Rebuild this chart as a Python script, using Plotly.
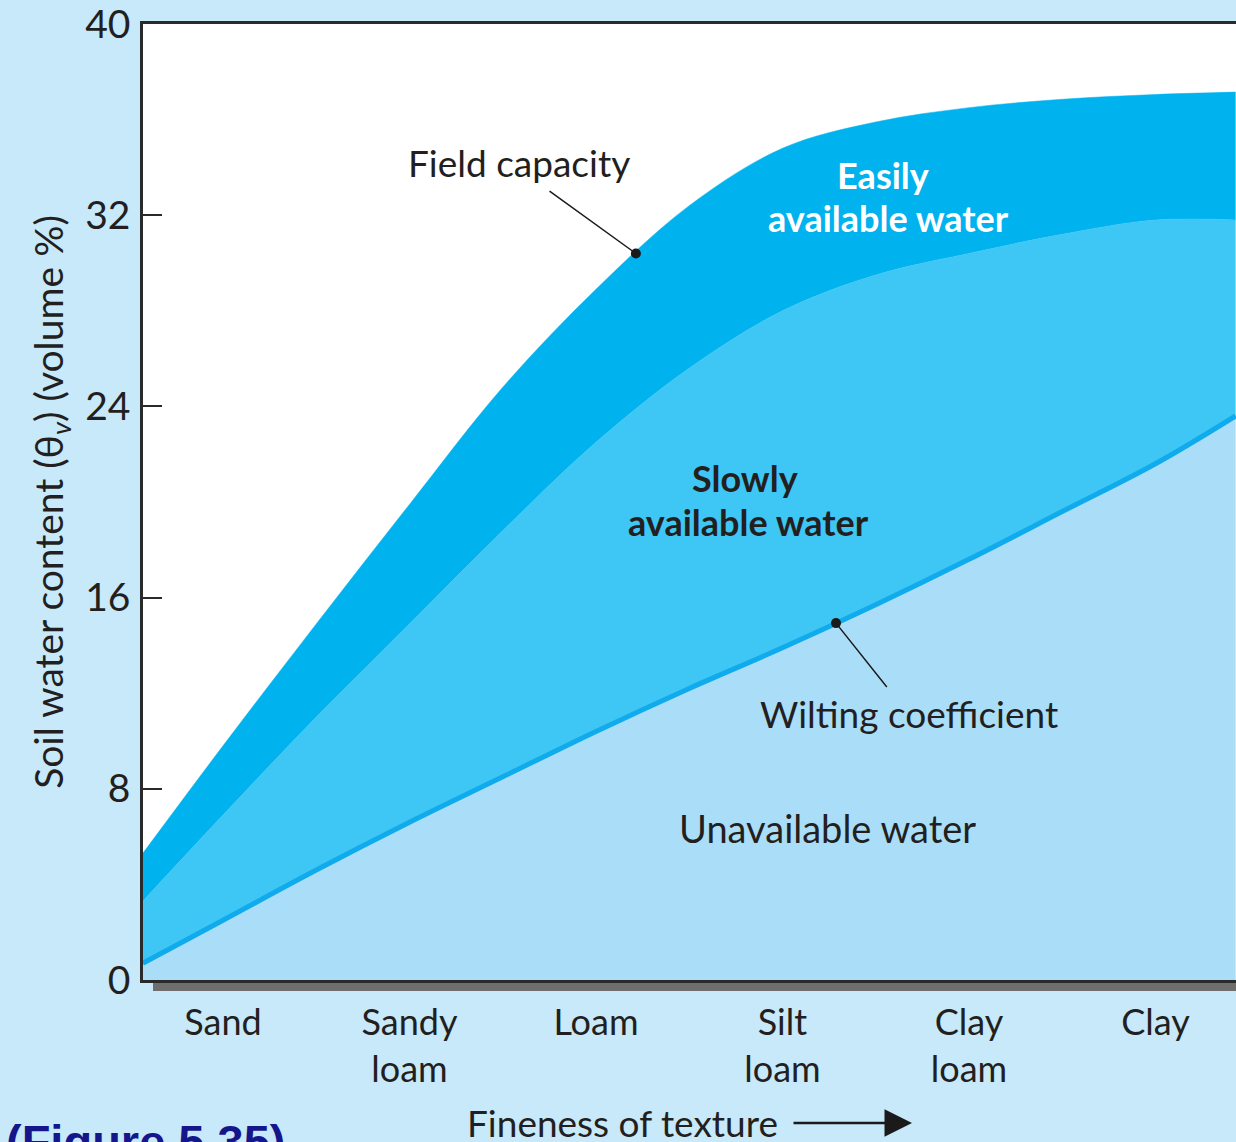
import numpy as np
import plotly.graph_objects as go

# ---- data ----
texture_labels = ["Sand", "Sandy<br>loam", "Loam", "Silt<br>loam", "Clay<br>loam", "Clay"]
texture_ticks = [0, 1, 2, 3, 4, 5]
texture_pos = [-0.43, 0, 0.5, 1, 1.5, 2, 2.5, 3, 3.5, 4, 4.5, 5, 5.43]
field_capacity = [5.3, 9.8, 14.9, 19.9, 24.8, 28.9, 32.4, 34.8, 35.9, 36.5, 36.85, 37.05, 37.15]
slow_limit = [3.3, 6.9, 11.0, 14.9, 18.8, 22.5, 25.6, 28.0, 29.5, 30.4, 31.2, 31.8, 31.8]
wilting = [0.7, 2.5, 4.6, 6.6, 8.5, 10.4, 12.2, 13.9, 15.7, 17.6, 19.6, 21.6, 23.6]
y_ticks = [0, 8, 16, 24, 32, 40]

FONT = "Lato"
DARK = "#231f20"
C_EASY = "#00b2ee"
C_SLOW = "#3ec7f4"
C_UNAV = "#aadef8"
C_WILT = "#10abec"
BG = "#c7e9fa"
SM = 1.0

fig = go.Figure()
fig.add_trace(go.Scatter(x=texture_pos, y=wilting, mode="lines",
                         line=dict(width=0.5, color=C_UNAV, shape="spline", smoothing=SM),
                         fill="tozeroy", fillcolor=C_UNAV, hoverinfo="skip"))
fig.add_trace(go.Scatter(x=texture_pos, y=slow_limit, mode="lines",
                         line=dict(width=0.5, color=C_SLOW, shape="spline", smoothing=SM),
                         fill="tonexty", fillcolor=C_SLOW, hoverinfo="skip"))
fig.add_trace(go.Scatter(x=texture_pos, y=field_capacity, mode="lines",
                         line=dict(width=0.5, color=C_EASY, shape="spline", smoothing=SM),
                         fill="tonexty", fillcolor=C_EASY, hoverinfo="skip"))
fig.add_trace(go.Scatter(x=texture_pos, y=wilting, mode="lines",
                         line=dict(width=5, color=C_WILT, shape="spline", smoothing=SM),
                         hoverinfo="skip"))

# pointer dots on the curves
fc_x = 2.214
wc_x = 3.287
fc_y = float(np.interp(fc_x, texture_pos, field_capacity))
wc_y = float(np.interp(wc_x, texture_pos, wilting))
fig.add_trace(go.Scatter(x=[fc_x, wc_x], y=[fc_y, wc_y], mode="markers",
                         marker=dict(size=10, color="#1a1a1a"), hoverinfo="skip"))

ann = []
def label(x, y, text, color=DARK, size=37, bold=False):
    t = f"<b>{text}</b>" if bold else text
    ann.append(dict(x=x, y=y, xref="x", yref="y", text=t, showarrow=False,
                    xanchor="center", yanchor="middle",
                    font=dict(family=FONT, size=size, color=color), align="center"))

label(1.587, 34.2, "Field capacity")
label(3.539, 33.68, "Easily", color="white", bold=True, size=36)
label(3.566, 31.88, "available water", color="white", bold=True, size=36)
label(2.799, 21.0, "Slowly", bold=True, size=36)
label(2.820, 19.16, "available water", bold=True, size=36)
label(3.678, 11.13, "Wilting coefficient")
label(3.244, 6.36, "Unavailable water", size=38)

# leader lines
ann.append(dict(x=fc_x, y=fc_y, xref="x", yref="y", ax=1.743, ay=33.05, axref="x", ayref="y",
                showarrow=True, arrowhead=0, arrowwidth=1.5, arrowcolor="#1a1a1a", text=""))
ann.append(dict(x=wc_x, y=wc_y, xref="x", yref="y", ax=3.566, ay=12.2, axref="x", ayref="y",
                showarrow=True, arrowhead=0, arrowwidth=1.5, arrowcolor="#1a1a1a", text=""))

# x-axis title with arrow
ann.append(dict(x=(622 - 143) / 1093, y=(980 - 1122) / 956, xref="paper", yref="paper",
                xanchor="center", yanchor="middle",
                text="Fineness of texture", showarrow=False,
                font=dict(family=FONT, size=37, color=DARK)))
ann.append(dict(x=(912 - 143) / 1093, y=(980 - 1123) / 956, xref="paper", yref="paper",
                ax=-120, ay=0, text="", showarrow=True, arrowhead=2, arrowsize=2.2,
                arrowwidth=2.5, arrowcolor="#1a1a1a"))

# figure label
ann.append(dict(x=(4 - 143) / 1093, y=(980 - 1113) / 956, xref="paper", yref="paper",
                xanchor="left", yanchor="top", text="<b>(Figure 5.35)</b>", showarrow=False,
                font=dict(family="Liberation Sans", size=47, color="#15158c")))

shapes = [dict(type="rect", xref="paper", yref="paper", x0=10 / 1093, x1=1.02,
               y0=-11 / 956, y1=-3 / 956, fillcolor="#6e6e6e", line=dict(width=0))]

fig.update_layout(
    width=1236, height=1142,
    margin=dict(l=143, r=0, t=24, b=162),
    paper_bgcolor=BG, plot_bgcolor="white",
    showlegend=False,
    annotations=ann, shapes=shapes,
    xaxis=dict(range=[-0.429, 5.432], tickvals=texture_ticks, ticktext=texture_labels,
               showgrid=False, zeroline=False, showline=True, linecolor="#2a2a2a", linewidth=2.5,
               mirror=True, ticks="", tickfont=dict(family=FONT, size=36, color=DARK),
               ticklabelstandoff=9),
    yaxis=dict(range=[0, 40], tickvals=y_ticks, showgrid=False, zeroline=False,
               showline=True, linecolor="#2a2a2a", linewidth=2.5, mirror=False,
               ticks="inside", ticklen=19, tickwidth=2, tickcolor="#2a2a2a",
               tickfont=dict(family=FONT, size=39, color=DARK), ticklabelstandoff=2,
               ticklabeloverflow="allow",
               title=dict(text="Soil water content (θ<sub><i>v</i></sub>) (volume %)",
                          font=dict(family=FONT, size=39, color=DARK), standoff=10)),
)

fig.write_html("out.html", config={"displayModeBar": False},
               post_script="document.body.style.margin='0';")
